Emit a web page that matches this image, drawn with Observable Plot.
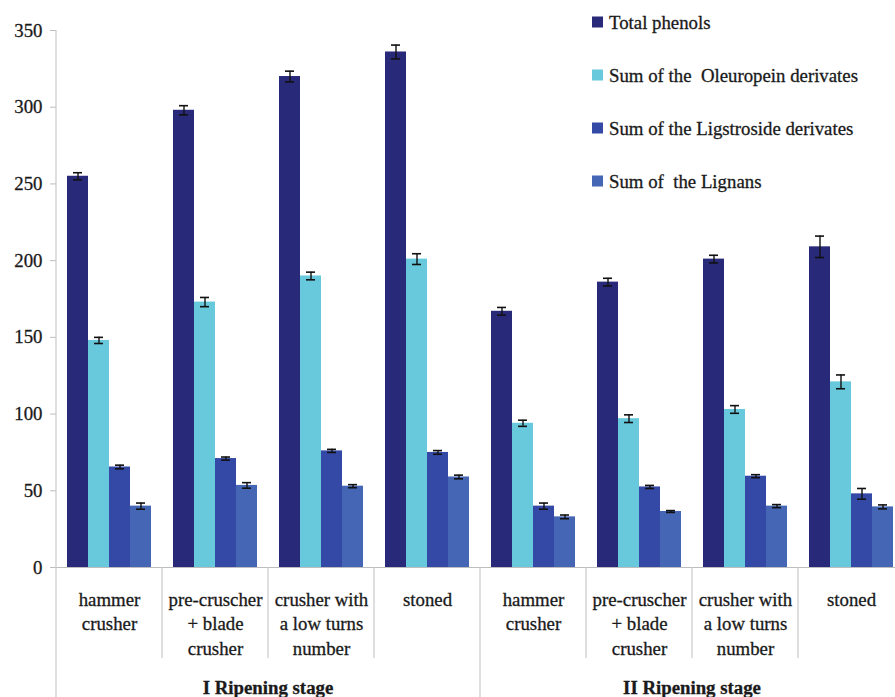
<!DOCTYPE html>
<html>
<head>
<meta charset="utf-8">
<script src="https://cdn.jsdelivr.net/npm/d3@7"></script>
<script src="https://cdn.jsdelivr.net/npm/@observablehq/plot@0.6"></script>
<style>
  html, body { margin: 0; padding: 0; background: #fff; overflow: hidden; }
  #wrap { width: 905px; position: relative; }
  #wrap svg { max-width: none !important; }
  #wrap svg text { stroke: #1a1a1a; stroke-width: 0.3px; }
</style>
</head>
<body>
<div id="wrap"></div>
<script>
// ---- data ----
const stages = ["I Ripening stage", "II Ripening stage"];
const methods = ["hammer\ncrusher", "pre-cruscher\n+ blade\ncrusher", "crusher with\na low turns\nnumber", "stoned"];
const series = ["Total phenols", "Sum of the  Oleuropein derivates", "Sum of the Ligstroside derivates", "Sum of  the Lignans"];
const colors = ["#29297a", "#68c9dc", "#3448a5", "#4566b4"];
const yTicks = [0, 50, 100, 150, 200, 250, 300, 350];

// values per group: I-hammer, I-pre, I-low, I-stoned, II-hammer, II-pre, II-low, II-stoned
const totalPhenols = [255, 298, 320, 336, 167, 186, 201, 209];
const totalPhenolsErr = [2.3, 3, 3.5, 4.5, 2.5, 2.5, 2.5, 7];
const oleuropein = [148, 173, 190, 201, 94, 97, 103, 121];
const oleuropeinErr = [2, 3, 2.5, 3.5, 2, 2.5, 2.5, 4.5];
const ligstroside = [65.5, 71, 76, 75, 40, 52.5, 59.5, 48];
const ligstrosideErr = [1.2, 1, 1, 1.2, 2, 1, 1, 3.5];
const lignans = [40, 53.5, 53, 59, 33, 36.5, 40, 39.5];
const lignansErr = [2, 1.8, 1, 1.2, 1.2, 0.6, 1, 1.3];

// ---- font selection (serif, Times-like) ----
function fontAvailable(name) {
  const c = document.createElement("canvas").getContext("2d");
  const s = "pre-cruscher Ripening 0123";
  c.font = "40px monospace"; const a = c.measureText(s).width;
  c.font = `40px '${name}', monospace`; const b = c.measureText(s).width;
  return Math.abs(a - b) > 0.5;
}
const candidates = ["Liberation Serif", "Times New Roman", "Tinos", "Noto Serif", "DejaVu Serif"];
const picked = candidates.find(fontAvailable) || "serif";
const FONT = `'${picked}', serif`;
// size so that "pre-cruscher" is about 94px wide, like the reference
const FS = (() => {
  const c = document.createElement("canvas").getContext("2d");
  c.font = `18px ${FONT}`;
  const w = c.measureText("pre-cruscher").width;
  return Math.max(14, Math.min(20, 18 * 94 / w));
})();

// ---- build table ----
const groupKeys = [];
stages.forEach((s, si) => methods.forEach((m, mi) => groupKeys.push(`${si}-${mi}`)));
const valueArrays = [totalPhenols, oleuropein, ligstroside, lignans];
const errArrays = [totalPhenolsErr, oleuropeinErr, ligstrosideErr, lignansErr];
const rows = [];
groupKeys.forEach((g, gi) => {
  series.forEach((s, si) => {
    rows.push({group: g, series: s, value: valueArrays[si][gi], err: errArrays[si][gi]});
  });
});
const groupLabels = groupKeys.map((g, gi) => ({group: g, label: methods[gi % methods.length]}));

const chart = Plot.plot({
  width: 905,
  height: 697,
  marginLeft: 55,
  marginRight: 0,
  marginTop: 30,
  marginBottom: 130,
  style: {fontFamily: FONT, fontSize: FS + "px", color: "#1a1a1a", background: "#fff", overflow: "visible"},
  fx: {domain: groupKeys, padding: 0, axis: null},
  x: {domain: series, paddingInner: 0, paddingOuter: 0.5, axis: null},
  y: {domain: [0, 350], axis: null},
  color: {domain: series, range: colors},
  marks: [
    Plot.barY(rows, {fx: "group", x: "series", y: "value", fill: "series"}),
    Plot.ruleX(rows, {fx: "group", x: "series", y1: d => d.value - d.err, y2: d => d.value + d.err, stroke: "#111", strokeWidth: 1.4}),
    Plot.tickY(rows, {fx: "group", x: "series", y: d => d.value + d.err, stroke: "#111", strokeWidth: 1.6, insetLeft: 6, insetRight: 6}),
    Plot.tickY(rows, {fx: "group", x: "series", y: d => d.value - d.err, stroke: "#111", strokeWidth: 1.6, insetLeft: 6, insetRight: 6}),
    Plot.ruleY([0], {stroke: "#bdbdbd", strokeWidth: 1}),
    Plot.axisY({ticks: yTicks, tickSize: 6, tickPadding: 8, stroke: "#bdbdbd", fill: "#1a1a1a", fontSize: FS, label: null}),
    Plot.text(groupLabels, {fx: "group", text: "label", frameAnchor: "bottom", lineAnchor: "top", dy: 21, lineHeight: 24.5 / FS, fontSize: FS, fill: "#1a1a1a"})
  ]
});

document.getElementById("wrap").appendChild(chart);

// ---- separators, stage labels, legend (positioned via Plot's scales) ----
const fx = chart.scale("fx");
const y = chart.scale("y");
const bw = fx.bandwidth;
const svg = d3.select(chart);
const y0 = y.apply(0);
const yTop = y.apply(350);
const H = 697;
const sepG = svg.append("g").attr("stroke", "#c9c9c9").attr("stroke-width", 1.2);

groupKeys.forEach((g, gi) => {
  const x0 = fx.apply(g);
  const isStageStart = gi % methods.length === 0;
  sepG.append("line")
    .attr("x1", x0).attr("x2", x0)
    .attr("y1", gi === 0 ? yTop : y0)
    .attr("y2", isStageStart ? H : y0 + 91);
});
{
  const xe = fx.apply(groupKeys[groupKeys.length - 1]) + bw;
  sepG.append("line").attr("x1", xe).attr("x2", xe).attr("y1", y0).attr("y2", H);
}

stages.forEach((s, si) => {
  const first = groupKeys[si * methods.length];
  const last = groupKeys[si * methods.length + methods.length - 1];
  const cx = (fx.apply(first) + fx.apply(last) + bw) / 2;
  svg.append("text")
    .attr("x", cx).attr("y", 694)
    .attr("text-anchor", "middle")
    .attr("font-family", FONT).attr("font-size", FS).attr("font-weight", "bold")
    .attr("fill", "#1a1a1a")
    .text(s);
});

const leg = svg.append("g").attr("font-family", FONT).attr("font-size", FS).attr("fill", "#1a1a1a").attr("text-anchor", "start");
series.forEach((s, i) => {
  const cy = 22 + i * 53;
  leg.append("rect").attr("x", 592).attr("y", cy - 5.5).attr("width", 11).attr("height", 11).attr("fill", colors[i]);
  leg.append("text").attr("x", 609).attr("y", cy).attr("dy", "0.35em").attr("text-anchor", "start")
    .style("white-space", "pre").text(s);
});
</script>
</body>
</html>
